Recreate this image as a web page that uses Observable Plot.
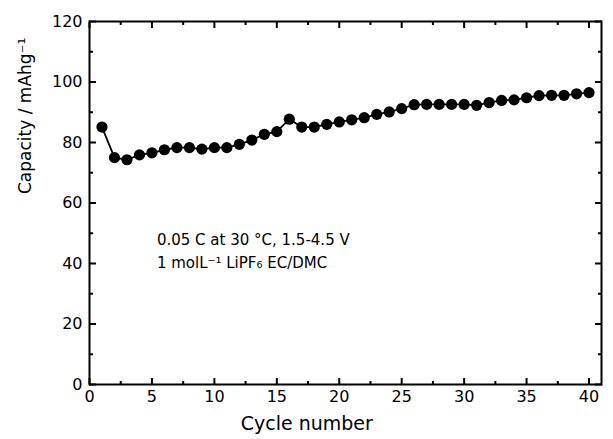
<!DOCTYPE html>
<html><head><meta charset="utf-8">
<script src="https://cdn.jsdelivr.net/npm/d3@7"></script>
<script src="https://cdn.jsdelivr.net/npm/@observablehq/plot@0.6"></script>
<style>body{margin:0;background:#fff}</style>
</head><body><div id="chart"></div>
<script>
const cycles = [1,2,3,4,5,6,7,8,9,10,11,12,13,14,15,16,17,18,19,20,21,22,23,24,25,26,27,28,29,30,31,32,33,34,35,36,37,38,39,40];
const capacity = [85.1,75.0,74.3,75.9,76.6,77.6,78.3,78.3,77.8,78.3,78.3,79.4,80.8,82.7,83.6,87.7,85.1,85.1,86.0,86.8,87.5,88.2,89.3,90.1,91.2,92.5,92.6,92.6,92.6,92.6,92.3,93.2,93.9,94.1,94.8,95.5,95.6,95.6,96.1,96.5];
const xMajorTicks = [0,5,10,15,20,25,30,35,40];
const xMinorTicks = [2.5,7.5,12.5,17.5,22.5,27.5,32.5,37.5];
const yMajorTicks = [0,20,40,60,80,100,120];
const yMinorTicks = [10,30,50,70,90,110];
const xTitle = "Cycle number";
const yTitle = "Capacity / mAhg\u207B\u00B9";
const noteLines = ["0.05 C at 30 \u00B0C, 1.5-4.5 V", "1 molL\u207B\u00B9 LiPF\u2086 EC/DMC"];
const noteX = [5.4, 5.4];
const noteY = [47.6, 40.0];
const xTitleAt = [17.4];

const data = cycles.map((c, i) => ({cycle: c, capacity: capacity[i]}));
const tk = {stroke: "black", strokeWidth: 2, fill: "none", label: null};

const chart = Plot.plot({
  width: 613, height: 439,
  marginLeft: 89, marginRight: 12, marginTop: 21, marginBottom: 55,
  style: {fontFamily: "DejaVu Sans", fontSize: "16px", color: "black", background: "white"},
  x: {domain: [0, 41]},
  y: {domain: [0, 120]},
  marks: [
    Plot.axisX(xMajorTicks, {anchor: "bottom", tickSize: 0, tickPadding: 6, label: null, fill: "black"}),
    Plot.axisY(yMajorTicks, {anchor: "left", tickSize: 0, tickPadding: 7, label: null, fill: "black"}),
    Plot.axisX(xMajorTicks, {anchor: "bottom", tickSize: -6, ...tk}),
    Plot.axisX(xMinorTicks, {anchor: "bottom", tickSize: -3, ...tk}),
    Plot.axisX(xMajorTicks, {anchor: "top", tickSize: -6, ...tk}),
    Plot.axisX(xMinorTicks, {anchor: "top", tickSize: -3, ...tk}),
    Plot.axisY(yMajorTicks, {anchor: "left", tickSize: -7, ...tk}),
    Plot.axisY(yMinorTicks, {anchor: "left", tickSize: -4, ...tk}),
    Plot.axisY(yMajorTicks, {anchor: "right", tickSize: -7, ...tk}),
    Plot.axisY(yMinorTicks, {anchor: "right", tickSize: -4, ...tk}),
    Plot.frame({stroke: "black", strokeWidth: 2}),
    Plot.line(data, {x: "cycle", y: "capacity", stroke: "black", strokeWidth: 1.8}),
    Plot.dot(data, {x: "cycle", y: "capacity", r: 5.6, fill: "black", stroke: "none"}),
    Plot.text(noteLines, {x: noteX, y: noteY, text: d => d, textAnchor: "start", fontSize: 15, fill: "black"}),
    Plot.text([yTitle], {text: d => d, frameAnchor: "left", dx: -64, dy: -9, rotate: -90, fontSize: 17, fill: "black"}),
    Plot.text([xTitle], {text: d => d, x: xTitleAt, frameAnchor: "bottom", dy: 45, fontSize: 19, fill: "black"})
  ]
});
document.getElementById("chart").appendChild(chart);
</script>
</body></html>
